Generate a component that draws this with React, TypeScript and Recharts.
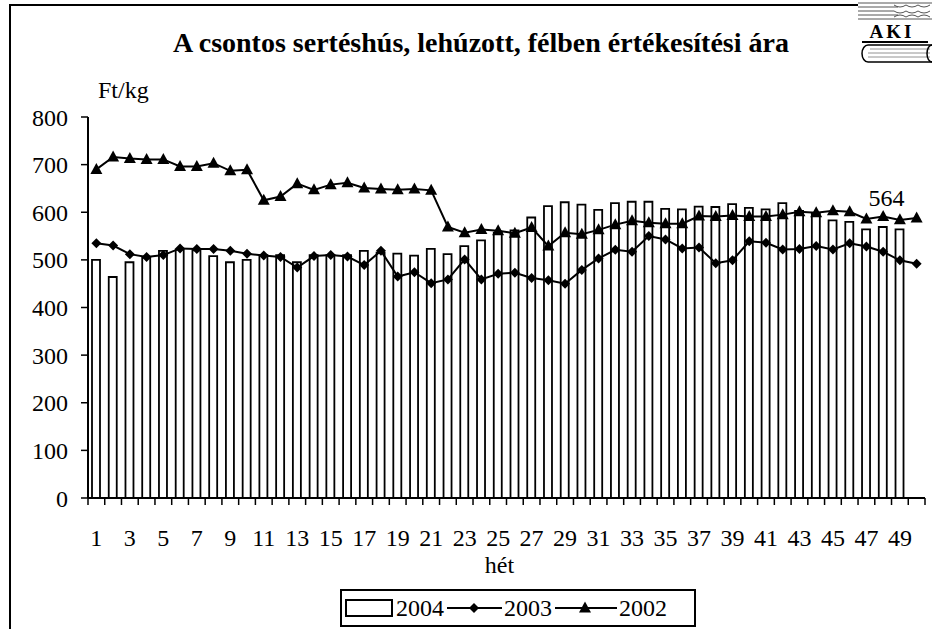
import {
  Bar,
  ComposedChart,
  LabelList,
  Line,
  XAxis,
  YAxis,
} from "recharts";

const WEEKS = [
  1, 2, 3, 4, 5, 6, 7, 8, 9, 10, 11, 12, 13, 14, 15, 16, 17, 18, 19, 20, 21, 22, 23, 24, 25,
  26, 27, 28, 29, 30, 31, 32, 33, 34, 35, 36, 37, 38, 39, 40, 41, 42, 43, 44, 45, 46, 47, 48, 49, 50,
];

const Y2004 = [
  500, 464, 495, 505, 519, 522, 520, 508, 495, 500, 510, 510, 495, 510, 510, 510, 519, 515, 513, 509,
  523, 512, 529, 541, 557, 562, 589, 613, 621, 616, 605, 619, 622, 622, 607, 606, 612, 611, 617, 609,
  606, 619, 603, 598, 583, 580, 564, 569, 564,
];

const Y2003 = [
  535, 530, 512, 506, 510, 524, 523, 523, 519, 513, 509, 506, 484, 508, 510, 507, 489, 519, 465, 474,
  451, 459, 501, 459, 471, 473, 462, 457, 450, 479, 503, 521, 517, 550, 543, 524, 526, 493, 499, 539,
  536, 522, 523, 529, 522, 535, 528, 517, 499, 492,
];

const Y2002 = [
  690, 716, 713, 711, 711, 696, 696, 703, 687, 689, 625, 633, 660, 647, 658, 662, 651, 649, 647, 649,
  646, 569, 557, 564, 561, 556, 568, 529, 557, 554, 563, 574, 582, 578, 576, 576, 592, 591, 593, 591,
  591, 595, 601, 599, 603, 601, 586, 591, 584, 588,
];

const Y_TICKS = [0, 100, 200, 300, 400, 500, 600, 700, 800];
const X_LABELS = [1, 3, 5, 7, 9, 11, 13, 15, 17, 19, 21, 23, 25, 27, 29, 31, 33, 35, 37, 39, 41, 43, 45, 47, 49];
const X_MARKS = [
  0.5, 1.5, 2.5, 3.5, 4.5, 5.5, 6.5, 7.5, 8.5, 9.5, 10.5, 11.5, 12.5, 13.5, 14.5, 15.5, 16.5, 17.5,
  18.5, 19.5, 20.5, 21.5, 22.5, 23.5, 24.5, 25.5, 26.5, 27.5, 28.5, 29.5, 30.5, 31.5, 32.5, 33.5,
  34.5, 35.5, 36.5, 37.5, 38.5, 39.5, 40.5, 41.5, 42.5, 43.5, 44.5, 45.5, 46.5, 47.5, 48.5, 49.5, 50.5,
];

const TITLE = "A csontos sertéshús, lehúzott, félben értékesítési ára";
const UNIT = "Ft/kg";
const X_TITLE = "hét";

const FONT = "'Times New Roman', 'Liberation Serif', serif";

const data = WEEKS.map((w, i) => ({
  week: w,
  y2004: i < Y2004.length ? Y2004[i] : null,
  y2003: Y2003[i],
  y2002: Y2002[i],
}));

const ticks = [...X_MARKS, ...X_LABELS].sort((a, b) => a - b);

function XTick(props: any) {
  const { x, y, payload } = props;
  const v = payload.value;
  if (v % 1 !== 0) {
    return <line x1={x} y1={y} x2={x} y2={y + 7} stroke="#000" strokeWidth={1.5} />;
  }
  if (X_LABELS.includes(v)) {
    return (
      <text x={x} y={y + 48} textAnchor="middle" fontSize={24} style={{ fontFamily: FONT }} fill="#000">
        {v}
      </text>
    );
  }
  return <g />;
}

function Diamond(props: any) {
  const { cx, cy } = props;
  if (cx == null || cy == null) return <g />;
  const r = 5;
  return (
    <polygon
      points={`${cx},${cy - r} ${cx + r},${cy} ${cx},${cy + r} ${cx - r},${cy}`}
      fill="#000"
    />
  );
}

function Triangle(props: any) {
  const { cx, cy } = props;
  if (cx == null || cy == null) return <g />;
  return (
    <polygon
      points={`${cx},${cy - 6.5} ${cx + 6},${cy + 4.5} ${cx - 6},${cy + 4.5}`}
      fill="#000"
    />
  );
}

function LastLabel(props: any) {
  const { x, y, width, index, value } = props;
  if (index !== Y2004.length - 1) return null;
  return (
    <text x={x + width / 2 - 13} y={y - 23} textAnchor="middle" fontSize={24} style={{ fontFamily: FONT }} fill="#000">
      {value}
    </text>
  );
}

function Logo() {
  return (
    <svg width={74} height={64} style={{ position: "absolute", left: 858, top: 0 }}>
      <g stroke="#555" strokeWidth={1}>
        <line x1={0} y1={3} x2={74} y2={3} />
        <line x1={0} y1={7} x2={40} y2={7} />
        <line x1={0} y1={11} x2={36} y2={11} />
        <line x1={0} y1={15} x2={40} y2={15} />
        <line x1={0} y1={19} x2={74} y2={19} />
        <path d="M36,5 q6,4 12,0 q6,4 12,0 q6,4 12,0 M36,11 q6,4 12,0 q6,4 12,0 q6,4 12,0 M36,17 q6,-4 12,0 q6,-4 12,0 q6,-4 12,0" fill="none" />
      </g>
      <text x={34} y={38} textAnchor="middle" fontSize={19} fontWeight="bold" style={{ fontFamily: FONT }} letterSpacing={3} fill="#000">
        AKI
      </text>
      <line x1={4} y1={42} x2={70} y2={42} stroke="#000" strokeWidth={2} />
      <path d="M10,45 L74,45 M10,62 L74,62 M10,45 A6,8.5 0 0 0 10,62" fill="none" stroke="#000" strokeWidth={1.5} />
      <g stroke="#777" strokeWidth={0.8}>
        <line x1={12} y1={49} x2={72} y2={49} />
        <line x1={10} y1={53} x2={72} y2={53} />
        <line x1={10} y1={57} x2={72} y2={57} />
      </g>
      <path d="M74,45 A5,8.5 0 0 0 74,62" fill="none" stroke="#000" strokeWidth={1.5} />
    </svg>
  );
}

export default function App() {
  return (
    <div
      style={{
        position: "absolute",
        left: 0,
        top: 0,
        width: 932,
        height: 629,
        background: "#fff",
        fontFamily: FONT,
        overflow: "hidden",
      }}
    >
      {/* frame */}
      <div style={{ position: "absolute", left: 9, top: 4, width: 2, height: 625, background: "#000" }} />
      <div style={{ position: "absolute", left: 9, top: 4, width: 849, height: 2, background: "#000" }} />
      <Logo />

      <div
        style={{
          position: "absolute",
          left: 0,
          width: 962,
          top: 27,
          textAlign: "center",
          fontSize: 28,
          fontWeight: "bold",
          lineHeight: "32px",
        }}
      >
        {TITLE}
      </div>
      <div style={{ position: "absolute", left: 98, top: 76, fontSize: 24, lineHeight: "28px" }}>{UNIT}</div>

      <ComposedChart
        width={932}
        height={629}
        data={data}
        margin={{ top: 117, right: 7, bottom: 0, left: 0 }}
        style={{ position: "absolute", left: 0, top: 0, fontFamily: FONT }}
      >
        <XAxis
          dataKey="week"
          type="number"
          domain={[0.5, 50.5]}
          ticks={ticks}
          interval={0}
          tickLine={false}
          tickSize={0}
          tickMargin={0}
          height={131}
          axisLine={{ stroke: "#000", strokeWidth: 2 }}
          tick={<XTick />}
          label={{
            value: X_TITLE,
            position: "insideTop",
            offset: 58,
            dx: -7,
            fontSize: 24,
            fill: "#000",
          }}
        />
        <XAxis
          xAxisId="top"
          dataKey="week"
          type="number"
          orientation="top"
          domain={[0.5, 50.5]}
          height={0}
          tick={false}
          tickLine={false}
          axisLine={{ stroke: "#000", strokeWidth: 2 }}
        />
        <YAxis
          domain={[0, 800]}
          ticks={Y_TICKS}
          interval={0}
          width={88}
          tickSize={7}
          tickMargin={13}
          axisLine={{ stroke: "#000", strokeWidth: 2 }}
          tickLine={{ stroke: "#000", strokeWidth: 1.5 }}
          tick={{ fontSize: 24, fill: "#000" }}
        />
        <YAxis
          yAxisId="right"
          orientation="right"
          width={0}
          domain={[0, 800]}
          tick={false}
          tickLine={false}
          axisLine={{ stroke: "#000", strokeWidth: 2 }}
        />
        <Bar
          dataKey="y2004"
          barSize={8}
          fill="#fff"
          stroke="#000"
          strokeWidth={1.8}
          isAnimationActive={false}
        >
          <LabelList dataKey="y2004" content={<LastLabel />} />
        </Bar>
        <Line
          dataKey="y2003"
          stroke="#000"
          strokeWidth={2}
          dot={<Diamond />}
          activeDot={false}
          isAnimationActive={false}
        />
        <Line
          dataKey="y2002"
          stroke="#000"
          strokeWidth={2}
          dot={<Triangle />}
          activeDot={false}
          isAnimationActive={false}
        />
      </ComposedChart>

      {/* legend */}
      <div
        style={{
          position: "absolute",
          left: 340,
          top: 589,
          width: 356,
          height: 38,
          border: "2px solid #000",
          boxSizing: "border-box",
          background: "#fff",
        }}
      >
        <svg width={352} height={34} style={{ position: "absolute", left: 0, top: 0, fontFamily: FONT }}>
          <rect x={4} y={9} width={46} height={16} fill="#fff" stroke="#000" strokeWidth={2} />
          <text x={54} y={25} fontSize={24} fill="#000">2004</text>
          <line x1={105} y1={17} x2={160} y2={17} stroke="#000" strokeWidth={2} />
          <Diamond cx={132} cy={17} />
          <text x={162} y={25} fontSize={24} fill="#000">2003</text>
          <line x1={213} y1={17} x2={275} y2={17} stroke="#000" strokeWidth={2} />
          <Triangle cx={243} cy={17} />
          <text x={277} y={25} fontSize={24} fill="#000">2002</text>
        </svg>
      </div>
    </div>
  );
}
